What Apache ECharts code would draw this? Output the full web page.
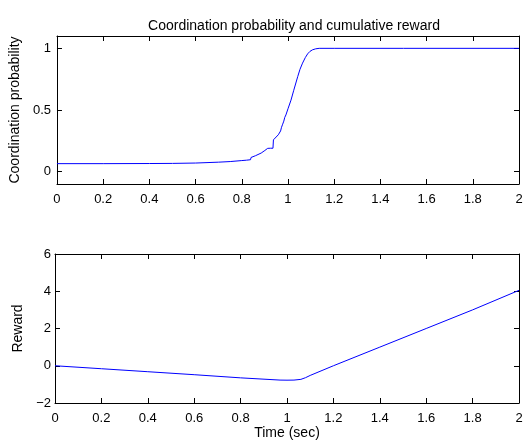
<!DOCTYPE html>
<html><head><meta charset="utf-8">
<script src="https://cdn.jsdelivr.net/npm/echarts@6/dist/echarts.min.js"></script>
<style>html,body{margin:0;padding:0;background:#fff}#c{width:528px;height:441px}</style>
</head><body><div id="c"></div>
<script>
var titleText = 'Coordination probability and cumulative reward';
var xTicks = [0,0.2,0.4,0.6,0.8,1,1.2,1.4,1.6,1.8,2];
var probTicks = [0,0.5,1];
var rewardTicks = [-2,0,2,4,6];
var probTime = [0,0.2,0.4,0.5,0.6,0.7,0.75,0.8,0.82,0.838,0.84,0.86,0.884,0.9,0.912,0.925,0.935,0.937,0.945,0.958,0.968,0.972,0.977,0.982,0.986,0.991,1.0,1.013,1.025,1.042,1.052,1.063,1.075,1.085,1.095,1.106,1.12,1.135,1.2,1.5,2];
var probValue = [0.065,0.065,0.066,0.067,0.07,0.077,0.082,0.09,0.093,0.097,0.115,0.13,0.151,0.172,0.189,0.19,0.19,0.258,0.27,0.299,0.33,0.36,0.385,0.41,0.44,0.46,0.51,0.58,0.66,0.77,0.83,0.88,0.925,0.955,0.975,0.988,0.996,1.0,1.0,1.0,1.0];
var rewardTime = [0,0.2,0.4,0.6,0.8,0.97,1.0,1.03,1.06,1.08,1.1,1.2,1.4,1.6,1.8,2];
var rewardValue = [0,-0.16,-0.32,-0.48,-0.65,-0.77,-0.775,-0.77,-0.73,-0.64,-0.52,0,1.0,2.0,3.0,4.05];

function pairs(a,b){return a.map(function(v,i){return [v,b[i]];});}
var font = 'Liberation Sans, Arial, sans-serif';
var nameStyle = {color:'#000', fontFamily:font, fontSize:14};
function fmt(v){ return String(v).replace('-', '\u2212'); }
function xAx(grid, pos, show, name){
  return {type:'value', gridIndex:grid, position:pos, min:0, max:2,
    axisLine:{show:true, onZero:false, lineStyle:{color:'#000', width:1}},
    axisTick:{show:true, inside:true, length:5, customValues:xTicks, lineStyle:{color:'#000'}},
    axisLabel:{show:show, customValues:xTicks, margin:9, color:'#000', fontFamily:font, fontSize:13, formatter:fmt},
    splitLine:{show:false},
    name:name||'', nameLocation:'middle', nameGap:23, nameTextStyle:nameStyle};
}
function yAx(grid, pos, show, mn, mx, ticks, name, gap, margin){
  return {type:'value', gridIndex:grid, position:pos, min:mn, max:mx,
    axisLine:{show:true, onZero:false, lineStyle:{color:'#000', width:1}},
    axisTick:{show:true, inside:true, length:5, customValues:ticks, lineStyle:{color:'#000'}},
    axisLabel:{show:show, customValues:ticks, margin:margin||5, color:'#000', fontFamily:font, fontSize:13, formatter:fmt},
    splitLine:{show:false},
    name:name||'', nameLocation:'middle', nameGap:gap||30, nameTextStyle:nameStyle};
}
var chart = echarts.init(document.getElementById('c'), null, {renderer:'canvas'});
chart.setOption({
  animation:false,
  backgroundColor:'#fff',
  title:{text:titleText, left:289, top:14, textAlign:'center',
    textStyle:{fontFamily:font, fontSize:14, fontWeight:'normal', color:'#000'}},
  grid:[
    {left:55, top:36, width:464, height:148, show:false},
    {left:55, top:254, width:464, height:151, show:false}
  ],
  xAxis:[
    xAx(0,'bottom',true),
    xAx(0,'top',false),
    xAx(1,'bottom',true,'Time (sec)'),
    xAx(1,'top',false)
  ],
  yAxis:[
    yAx(0,'left',true,-0.1,1.1,probTicks,'Coordination probability',28,6),
    yAx(0,'right',false,-0.1,1.1,probTicks),
    yAx(1,'left',true,-2,6,rewardTicks,'Reward',25,4),
    yAx(1,'right',false,-2,6,rewardTicks)
  ],
  series:[
    {type:'line', xAxisIndex:0, yAxisIndex:0, data:pairs(probTime,probValue), showSymbol:false,
      lineStyle:{color:'#0000ff', width:1}},
    {type:'line', xAxisIndex:2, yAxisIndex:2, data:pairs(rewardTime,rewardValue), showSymbol:false,
      lineStyle:{color:'#0000ff', width:1}}
  ]
});
</script></body></html>
